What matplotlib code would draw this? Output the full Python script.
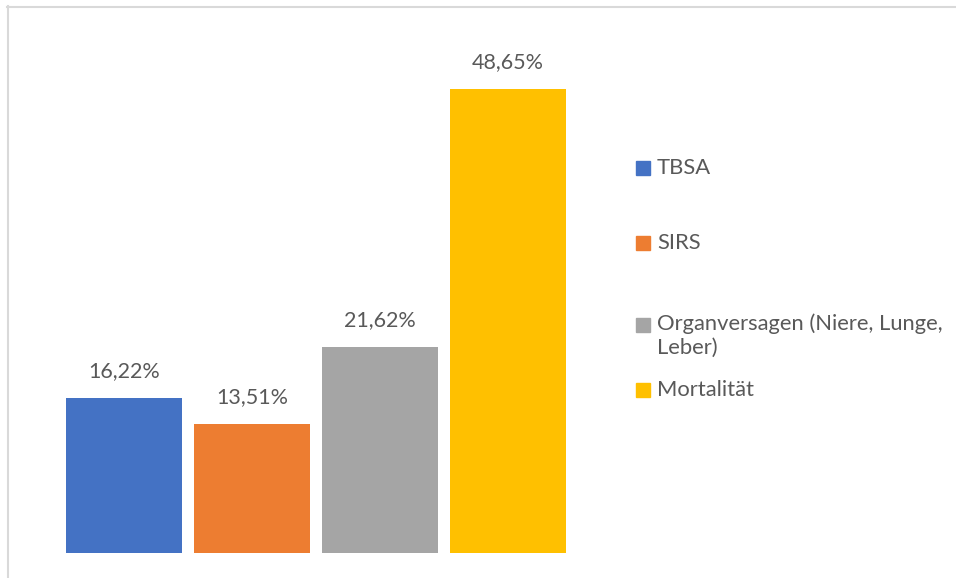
import matplotlib.pyplot as plt
from matplotlib.patches import Rectangle
from matplotlib.lines import Line2D

# data
categories = ['TBSA', 'SIRS', 'Organversagen (Niere, Lunge,\nLeber)', 'Mortalität']
values = [16.22, 13.51, 21.62, 48.65]
colors = ['#4472C4', '#ED7D31', '#A5A5A5', '#FFC000']

W, H = 956, 578
fig = plt.figure(figsize=(W / 100, H / 100), dpi=100)
plt.rcParams['font.family'] = ['Lato', 'DejaVu Sans']

def fx(px):
    return px / W

def fy(py):
    return 1 - py / H

# plot area: x from 60 to 572 px, baseline at 553 px
ax = fig.add_axes([fx(60), fy(553), fx(512), 477 / H])
xs = range(len(values))
bars = ax.bar(xs, values, width=0.91, color=colors)
ax.set_xlim(-0.5, 3.5)
ax.set_ylim(0, 50)
ax.axis('off')

for b, v in zip(bars, values):
    ax.annotate(f'{v:.2f}%'.replace('.', ','),
                (b.get_x() + b.get_width() / 2, v),
                xytext=(0, 17), textcoords='offset pixels',
                ha='center', va='bottom', fontsize=15.5, color='#595959')

# legend drawn by hand
leg_y = [168, 243, 325, 390]
for name, c, y in zip(categories, colors, leg_y):
    fig.add_artist(Rectangle((fx(636), fy(y + 7)), fx(14), 14 / H,
                             color=c, transform=fig.transFigure))
    if '\n' in name:
        fig.text(fx(657), fy(y - 12), name, ha='left', va='top',
                 fontsize=15.8, color='#595959', linespacing=1.25)
    else:
        fig.text(fx(657), fy(y), name, ha='left', va='center',
                 fontsize=15.8, color='#595959')

# outer chart border (top and left visible)
fig.add_artist(Line2D([fx(7), 1], [fy(6.5), fy(6.5)], color='#D9D9D9', lw=1.5))
fig.add_artist(Line2D([fx(7.5), fx(7.5)], [0, fy(6)], color='#D9D9D9', lw=1.5))

fig.savefig('out.png', dpi=100)
